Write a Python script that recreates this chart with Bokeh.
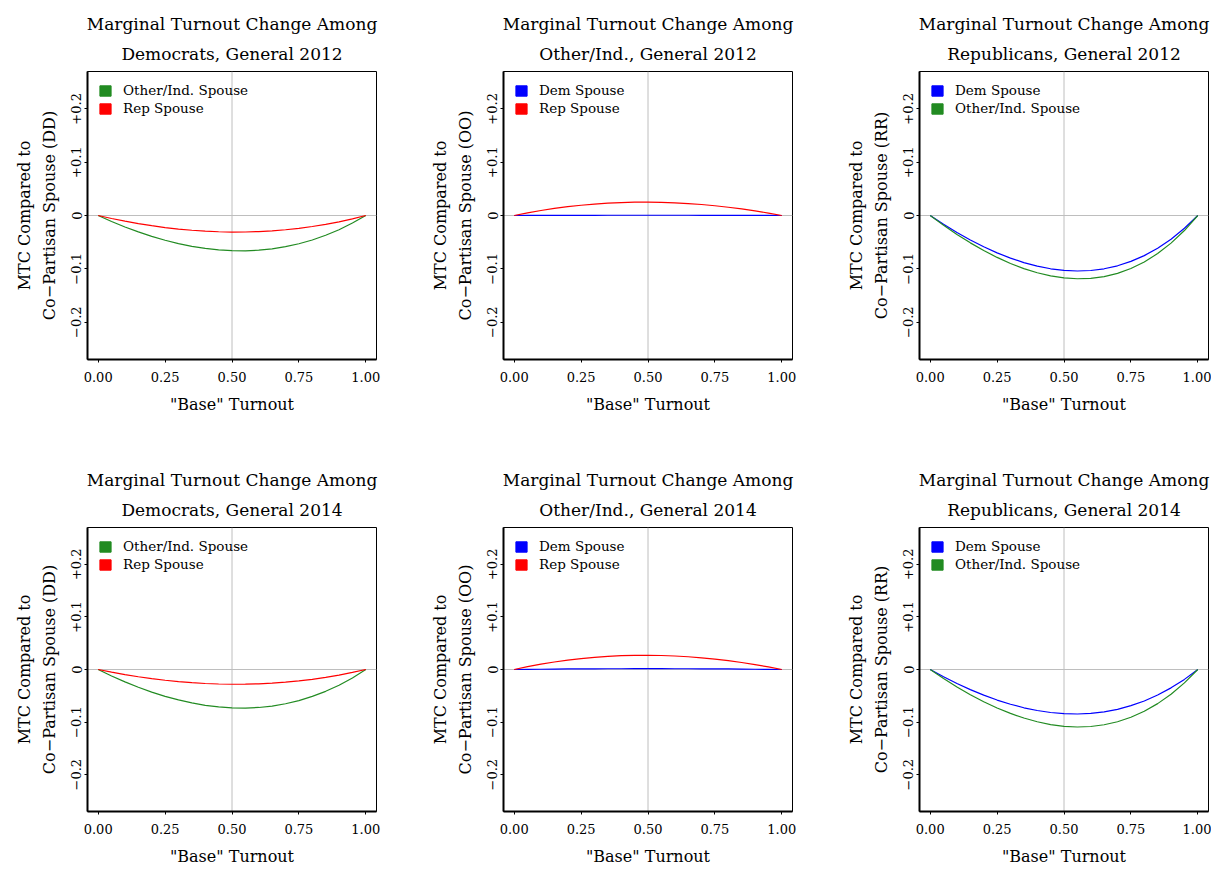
from bokeh.plotting import figure
from bokeh.models import Range1d, FixedTicker, Span, Legend, LegendItem, Title
from bokeh.layouts import row, column
from bokeh.embed import file_html
from bokeh.resources import INLINE

# ---------------- data ----------------
base_turnout = [0.00, 0.05, 0.10, 0.15, 0.20, 0.25, 0.30, 0.35, 0.40, 0.45, 0.50,
                0.55, 0.60, 0.65, 0.70, 0.75, 0.80, 0.85, 0.90, 0.95, 1.00]

dd12_oth = [0, -0.0112, -0.0215, -0.0308, -0.0391, -0.0464, -0.0527, -0.0578, -0.0617, -0.0645, -0.0660,
            -0.0662, -0.0651, -0.0625, -0.0585, -0.0530, -0.0459, -0.0371, -0.0266, -0.0142, 0]
dd12_rep = [0, -0.0056, -0.0106, -0.0152, -0.0191, -0.0226, -0.0254, -0.0277, -0.0294, -0.0305, -0.0310,
            -0.0309, -0.0301, -0.0288, -0.0267, -0.0240, -0.0206, -0.0165, -0.0118, -0.0062, 0]
oo12_dem = [0, 0.0001, 0.0002, 0.0003, 0.0003, 0.0004, 0.0004, 0.0005, 0.0005, 0.0005, 0.0005,
            0.0005, 0.0005, 0.0005, 0.0004, 0.0004, 0.0003, 0.0003, 0.0002, 0.0001, 0]
oo12_rep = [0, 0.0050, 0.0094, 0.0132, 0.0165, 0.0192, 0.0214, 0.0231, 0.0243, 0.0249, 0.0250,
            0.0246, 0.0238, 0.0224, 0.0206, 0.0183, 0.0155, 0.0123, 0.0087, 0.0046, 0]
rr12_dem = [0, -0.0165, -0.0318, -0.0459, -0.0587, -0.0700, -0.0799, -0.0883, -0.0950, -0.0999, -0.1030,
            -0.1041, -0.1031, -0.0999, -0.0943, -0.0861, -0.0752, -0.0614, -0.0444, -0.0240, 0]
rr12_oth = [0, -0.0184, -0.0355, -0.0513, -0.0657, -0.0786, -0.0899, -0.0995, -0.1073, -0.1132, -0.1170,
            -0.1186, -0.1179, -0.1145, -0.1085, -0.0994, -0.0871, -0.0714, -0.0518, -0.0282, 0]
dd14_oth = [0, -0.0123, -0.0235, -0.0338, -0.0430, -0.0510, -0.0579, -0.0636, -0.0681, -0.0712, -0.0730,
            -0.0733, -0.0722, -0.0695, -0.0651, -0.0591, -0.0512, -0.0415, -0.0298, -0.0160, 0]
dd14_rep = [0, -0.0051, -0.0097, -0.0138, -0.0173, -0.0204, -0.0230, -0.0251, -0.0266, -0.0276, -0.0280,
            -0.0279, -0.0272, -0.0259, -0.0241, -0.0216, -0.0186, -0.0149, -0.0106, -0.0056, 0]
oo14_dem = [0, 0.0003, 0.0005, 0.0008, 0.0010, 0.0011, 0.0013, 0.0014, 0.0014, 0.0015, 0.0015,
            0.0015, 0.0014, 0.0014, 0.0013, 0.0011, 0.0010, 0.0008, 0.0005, 0.0003, 0]
oo14_rep = [0, 0.0054, 0.0102, 0.0143, 0.0179, 0.0208, 0.0232, 0.0250, 0.0262, 0.0269, 0.0270,
            0.0266, 0.0257, 0.0242, 0.0222, 0.0197, 0.0167, 0.0133, 0.0093, 0.0049, 0]
rr14_dem = [0, -0.0139, -0.0267, -0.0383, -0.0488, -0.0581, -0.0661, -0.0728, -0.0780, -0.0818, -0.0840,
            -0.0846, -0.0835, -0.0805, -0.0757, -0.0688, -0.0598, -0.0486, -0.0349, -0.0188, 0]
rr14_oth = [0, -0.0172, -0.0332, -0.0479, -0.0612, -0.0731, -0.0835, -0.0923, -0.0994, -0.1047, -0.1080,
            -0.1093, -0.1084, -0.1051, -0.0993, -0.0908, -0.0794, -0.0649, -0.0470, -0.0255, 0]

x_ticks = [0, 0.25, 0.5, 0.75, 1.0]
x_tick_labels = ["0.00", "0.25", "0.50", "0.75", "1.00"]
y_ticks = [-0.2, -0.1, 0, 0.1, 0.2]
y_tick_labels = ["\u22120.2", "\u22120.1", "0", "+0.1", "+0.2"]

GREEN = "#228B22"
RED = "#FF0000"
BLUE = "#0000FF"
FONT = "DejaVu Serif"
NAN = float("nan")

panels = [
    ("Marginal Turnout Change Among", "Democrats, General 2012", "DD",
     [("Other/Ind. Spouse", GREEN, dd12_oth), ("Rep Spouse", RED, dd12_rep)]),
    ("Marginal Turnout Change Among", "Other/Ind., General 2012", "OO",
     [("Dem Spouse", BLUE, oo12_dem), ("Rep Spouse", RED, oo12_rep)]),
    ("Marginal Turnout Change Among", "Republicans, General 2012", "RR",
     [("Dem Spouse", BLUE, rr12_dem), ("Other/Ind. Spouse", GREEN, rr12_oth)]),
    ("Marginal Turnout Change Among", "Democrats, General 2014", "DD",
     [("Other/Ind. Spouse", GREEN, dd14_oth), ("Rep Spouse", RED, dd14_rep)]),
    ("Marginal Turnout Change Among", "Other/Ind., General 2014", "OO",
     [("Dem Spouse", BLUE, oo14_dem), ("Rep Spouse", RED, oo14_rep)]),
    ("Marginal Turnout Change Among", "Republicans, General 2014", "RR",
     [("Dem Spouse", BLUE, rr14_dem), ("Other/Ind. Spouse", GREEN, rr14_oth)]),
]

FRAME_W = 289
FRAME_H = 288
LEFT = 87
TOP = 71
COL_W = 416


def title_obj(text, standoff):
    return Title(text=text, align="center", text_font=FONT, text_font_size="17px",
                 text_font_style="normal", text_color="black", standoff=standoff)


def make_panel(i, line1, line2, tag, series):
    col = i % 3
    top_row = i < 3
    right = 3 if col == 2 else COL_W - LEFT - FRAME_W
    bottom = 97 if top_row else 53
    p = figure(width=LEFT + FRAME_W + right, height=TOP + FRAME_H + bottom,
               min_border_left=LEFT, min_border_right=right,
               min_border_top=TOP, min_border_bottom=bottom,
               x_range=Range1d(-0.04, 1.04), y_range=Range1d(-0.27, 0.27),
               toolbar_location=None, output_backend="svg")
    p.title.visible = False
    p.add_layout(title_obj(line2, 16), "above")
    p.add_layout(title_obj(line1, 0), "above")

    p.xgrid.visible = False
    p.ygrid.visible = False
    p.background_fill_color = "white"
    p.border_fill_color = "white"
    p.outline_line_color = "black"
    p.outline_line_width = 1
    p.outline_line_alpha = 1

    for span_loc, dim in ((0.5, "height"), (0, "width")):
        p.add_layout(Span(location=span_loc, dimension=dim, line_color="#bebebe",
                          line_width=1, level="underlay"))

    for ax in (p.xaxis[0], p.yaxis[0]):
        ax.axis_line_color = "black"
        ax.axis_line_width = 2
        ax.major_tick_line_color = "black"
        ax.major_tick_line_width = 1
        ax.major_tick_out = 3
        ax.major_tick_in = 0
        ax.minor_tick_out = 0
        ax.minor_tick_in = 0
        ax.major_label_text_font = FONT
        ax.major_label_text_font_size = "13px"
        ax.major_label_text_color = "black"
        ax.axis_label_text_font = FONT
        ax.axis_label_text_font_size = "16px"
        ax.axis_label_text_font_style = "normal"
        ax.axis_label_text_color = "black"
        ax.axis_label_text_line_height = 1.3

    p.xaxis.ticker = FixedTicker(ticks=x_ticks)
    p.xaxis.major_label_overrides = dict(zip(x_ticks, x_tick_labels))
    p.xaxis.axis_label = "\"Base\" Turnout"
    p.xaxis.major_label_standoff = 9
    p.xaxis.axis_label_standoff = 10

    p.yaxis.ticker = FixedTicker(ticks=y_ticks)
    p.yaxis.major_label_overrides = dict(zip(y_ticks, y_tick_labels))
    p.yaxis.major_label_orientation = "vertical"
    p.yaxis.major_label_standoff = 3
    p.yaxis.axis_label = "MTC Compared to\nCo\u2212Partisan Spouse (%s)" % tag
    p.yaxis.axis_label_standoff = 10

    items = []
    for label, color, ys in series:
        p.line(base_turnout, ys, line_color=color, line_width=1.2)
        sw = p.quad(left=[NAN], right=[NAN], top=[NAN], bottom=[NAN],
                    fill_color=color, line_color=color)
        items.append(LegendItem(label=label, renderers=[sw]))

    leg = Legend(items=items, location="top_left")
    leg.background_fill_alpha = 0
    leg.border_line_alpha = 0
    leg.margin = 1
    leg.padding = 10
    leg.glyph_width = 14
    leg.glyph_height = 13
    leg.label_height = 13
    leg.spacing = 2
    leg.label_standoff = 11
    leg.label_text_font = FONT
    leg.label_text_font_size = "13.5px"
    leg.label_text_color = "black"
    leg.label_text_baseline = "middle"
    leg.label_text_line_height = 1.0
    p.add_layout(leg)
    return p


figs = [make_panel(i, *pn) for i, pn in enumerate(panels)]
layout = column(row(*figs[:3]), row(*figs[3:]))

open("out.html", "w").write(file_html(layout, INLINE))
